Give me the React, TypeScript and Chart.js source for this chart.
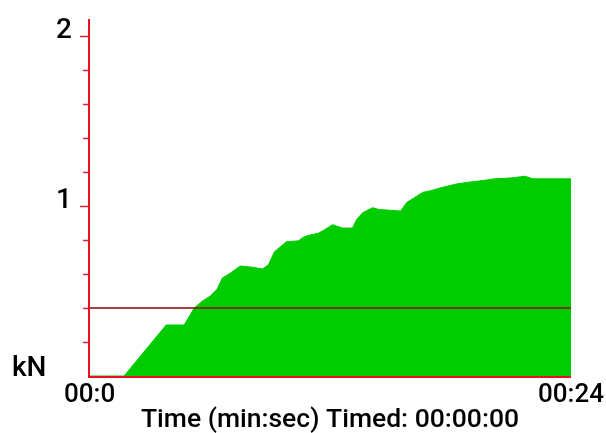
import React, { useEffect, useRef } from "react";
import { Chart, registerables } from "chart.js";

Chart.register(...registerables);

const times = [0, 1.7, 3.8, 4.7, 5.2, 5.6, 6.0, 6.34, 6.6, 7.0, 7.5, 8.1, 8.6, 8.9, 9.2, 9.5, 9.8, 10.4, 10.7, 11.0, 11.4, 11.7, 12.1, 12.6, 13.1, 13.3, 13.6, 14.1, 14.4, 15.5, 15.8, 16.2, 16.6, 17.0, 17.6, 18.3, 18.9, 19.6, 20.2, 21.0, 21.7, 22.1, 24];
const forces = [0, 0, 0.30, 0.30, 0.40, 0.44, 0.47, 0.51, 0.576, 0.605, 0.647, 0.64, 0.63, 0.653, 0.73, 0.76, 0.79, 0.795, 0.82, 0.83, 0.84, 0.86, 0.89, 0.87, 0.87, 0.92, 0.96, 0.99, 0.98, 0.97, 1.02, 1.05, 1.08, 1.09, 1.11, 1.13, 1.14, 1.15, 1.16, 1.165, 1.175, 1.16, 1.16];
const threshold = 0.4;
const yMax = 2.1;
const yTickStep = 0.2;
const yMajorLabels = [1, 2];
const xStartLabel = "00:0";
const xEndLabel = "00:24";
const yUnit = "kN";
const xTitle = "Time (min:sec) Timed: 00:00:00";

export default function App() {
  const ref = useRef<HTMLCanvasElement | null>(null);
  useEffect(() => {
    document.body.style.margin = "0";
    const canvas = ref.current!;
    const overlay = {
      id: "overlay",
      afterDatasetsDraw(chart: any) {
        const ctx = chart.ctx;
        const xs = chart.scales.x;
        const ys = chart.scales.y;
        const left = xs.getPixelForValue(0);
        const right = xs.getPixelForValue(24);
        const bottom = ys.getPixelForValue(0);
        const top = ys.getPixelForValue(yMax);
        ctx.save();
        // threshold line
        const ty = ys.getPixelForValue(threshold);
        ctx.strokeStyle = "rgba(140,20,20,0.8)";
        ctx.lineWidth = 2;
        ctx.beginPath();
        ctx.moveTo(left, ty);
        ctx.lineTo(right, ty);
        ctx.stroke();
        // ticks
        ctx.strokeStyle = "#c8283c";
        ctx.lineWidth = 1.5;
        for (let i = 1; i * yTickStep <= 2.0001; i++) {
          const v = i * yTickStep;
          const py = Math.round(ys.getPixelForValue(v)) + 0.5;
          const major = Math.abs(v - Math.round(v)) < 1e-6;
          ctx.beginPath();
          ctx.moveTo(left - (major ? 10 : 7), py);
          ctx.lineTo(left, py);
          ctx.stroke();
        }
        // axes
        ctx.strokeStyle = "#e8101e";
        ctx.lineWidth = 2;
        ctx.beginPath();
        ctx.moveTo(left - 1, top);
        ctx.lineTo(left - 1, bottom + 1);
        ctx.lineTo(right, bottom + 1);
        ctx.stroke();
        // labels
        ctx.fillStyle = "#000";
        ctx.font = "500 28px Roboto";
        ctx.textAlign = "right";
        ctx.textBaseline = "alphabetic";
        for (const v of yMajorLabels) {
          const py = ys.getPixelForValue(v);
          ctx.fillText(String(v), left - 18, py + 2);
        }
        ctx.textAlign = "left";
        ctx.fillText(yUnit, 12, bottom);
        ctx.font = "500 26px Roboto";
        ctx.textAlign = "left";
        ctx.fillText(xStartLabel, left - 26, bottom + 26);
        ctx.textAlign = "right";
        ctx.fillText(xEndLabel, 604, bottom + 26);
        ctx.font = "500 26.5px Roboto";
        ctx.textAlign = "center";
        ctx.fillText(xTitle, 330, bottom + 51);
        ctx.restore();
      },
    };
    const chart = new Chart(canvas, {
      type: "line",
      data: {
        datasets: [
          {
            data: times.map((t, i) => ({ x: t, y: forces[i] })),
            borderColor: "#00cc00",
            borderWidth: 1,
            backgroundColor: "#00cc00",
            fill: "origin",
            pointRadius: 0,
            tension: 0,
          },
        ],
      },
      options: {
        responsive: false,
        animation: false,
        layout: { padding: { left: 90, right: 35, top: 19, bottom: 57 } },
        plugins: { legend: { display: false }, tooltip: { enabled: false } },
        scales: {
          x: { type: "linear", min: 0, max: 24, display: false },
          y: { min: 0, max: yMax, display: false },
        },
      },
      plugins: [overlay],
    });
    return () => chart.destroy();
  }, []);
  return <canvas ref={ref} width={606} height={433} style={{ display: "block" }} />;
}
